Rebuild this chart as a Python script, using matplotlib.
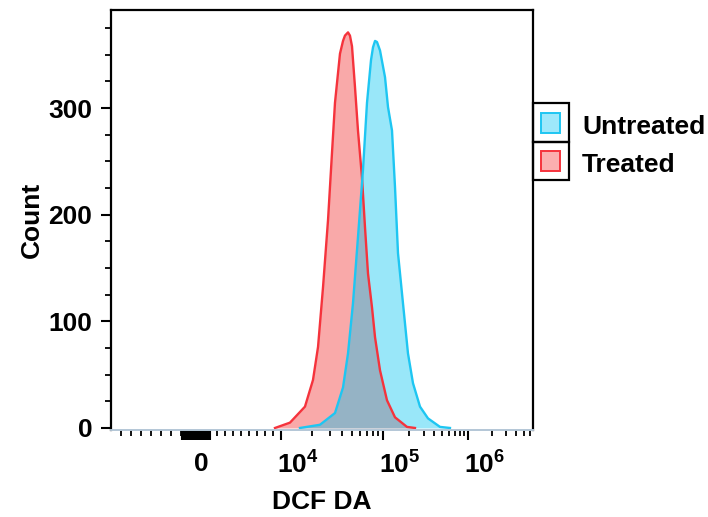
import numpy as np
import matplotlib.pyplot as plt
from matplotlib.patches import Rectangle
from matplotlib.ticker import FixedLocator, FixedFormatter, MultipleLocator
import matplotlib.transforms as mtransforms

plt.rcParams['font.family'] = ['Liberation Sans', 'DejaVu Sans']
plt.rcParams['font.weight'] = 'bold'
plt.rcParams['mathtext.fontset'] = 'custom'
plt.rcParams['mathtext.rm'] = 'Liberation Sans:bold'
plt.rcParams['mathtext.bf'] = 'Liberation Sans:bold'
plt.rcParams['mathtext.it'] = 'Liberation Sans:bold'

# DCF DA fluorescence (x) vs cell count
treated_x = [9250, 12250, 17180, 20590, 23070, 25820, 28910, 31620, 33830, 37860,
             40550, 42380, 45400, 47420, 49660, 53110, 56850, 62200, 66630, 71260,
             78030, 83550, 93500, 111400, 138400, 191500, 237800]
treated_count = [0, 5, 20, 45, 76, 132, 195, 258, 305, 351,
                 363, 368, 371, 368, 358, 320, 279, 235, 188, 145,
                 113, 85, 54, 26, 10, 1, 0]

untreated_x = [15350, 24100, 33830, 40550, 45400, 50800, 56850, 63630, 69690, 76280,
               79800, 83550, 87300, 93500, 105600, 114500, 127600, 138400, 150100,
               171800, 196700, 225300, 272500, 338300, 468500, 613300]
untreated_count = [0, 3, 14, 38, 70, 117, 179, 242, 305, 345,
                   357, 363, 362, 354, 329, 301, 279, 226, 164,
                   117, 70, 42, 20, 9, 1, 0]

groups = ['Untreated', 'Treated']
y_ticks = [0, 100, 200, 300]


# flow-cytometry style axis: linear around zero, log above 1e4
def _t(x):
    x = np.asarray(x, dtype=float)
    a = np.abs(x)
    return np.where(a <= 1e4, x / 1e4, np.sign(x) * (1 + np.log10(np.maximum(a, 1e4) / 1e4)))


def _t_inv(t):
    t = np.asarray(t, dtype=float)
    a = np.abs(t)
    return np.where(a <= 1, t * 1e4, np.sign(t) * 1e4 * 10 ** (np.maximum(a, 1) - 1))


x_lo, x_hi = -9000, 6.5e6
anchor_t = _t([x_lo, 0, 1e4, 1e5, 1e6, x_hi])
anchor_p = np.array([0, 90, 170, 272, 357, 422], dtype=float)


def fwd(x):
    return np.interp(_t(x), anchor_t, anchor_p)


def inv(p):
    return _t_inv(np.interp(p, anchor_p, anchor_t))


W, H = 708, 517
fig = plt.figure(figsize=(W / 100, H / 100), dpi=100)
ax = fig.add_axes([111 / W, 1 - 430 / H, 422 / W, 420 / H])
ax.set_xscale('function', functions=(fwd, inv))

red_fill, red_line = '#f23c3c', '#f5333c'
cyan_fill, cyan_line = '#00c3f0', '#1ec6f2'

ax.fill_between(treated_x, 0, treated_count, color=red_fill, alpha=0.44, lw=0)
ax.plot(treated_x, treated_count, color=red_line, lw=1.7)
ax.fill_between(untreated_x, 0, untreated_count, color=cyan_fill, alpha=0.4, lw=0)
ax.plot(untreated_x, untreated_count, color=cyan_line, lw=1.7)

ax.set_xlim(x_lo, x_hi)
ax.set_ylim(-1.9, 392)

# ticks
blob = [b for b in range(-1900, 1101, 150) if b != 0]
majors = [0, 1e4, 1e5, 1e6] + blob
labels = ['0', r'$\mathbf{10^4}$', r'$\mathbf{10^5}$', r'$\mathbf{10^6}$'] + [''] * len(blob)
ax.xaxis.set_major_locator(FixedLocator(majors))
ax.xaxis.set_major_formatter(FixedFormatter(labels))
minors = [k * 1000 for k in range(-8, -1)] + [k * 1000 for k in range(2, 10)]
minors += [k * 1e4 for k in range(2, 10)] + [k * 1e5 for k in range(2, 10)] + [k * 1e6 for k in range(2, 7)]
ax.xaxis.set_minor_locator(FixedLocator(minors))

ax.yaxis.set_major_locator(FixedLocator(y_ticks))
ax.yaxis.set_minor_locator(MultipleLocator(25))

ax.tick_params(which='major', length=7.5, width=1.5, labelsize=19, pad=6)
ax.tick_params(which='minor', length=4, width=1.3)
ax.tick_params(axis='x', which='major', pad=8)

offset = mtransforms.ScaledTranslation(-3 / 72, 0, fig.dpi_scale_trans)
for lab in ax.get_xticklabels()[1:4]:
    lab.set_ha('left')
    lab.set_transform(lab.get_transform() + offset)

for side in ['left', 'top', 'right']:
    ax.spines[side].set_linewidth(1.6)
    ax.spines[side].set_color('black')
ax.spines['bottom'].set_color('#b3c6d6')
ax.spines['bottom'].set_linewidth(1.4)

ax.set_xlabel('DCF DA', fontsize=19, fontweight='bold', labelpad=8)
ax.set_ylabel('Count', fontsize=19, fontweight='bold', labelpad=3)


# boxed legend to the right of the plot
def fp(px, py):
    return px / W, 1 - py / H


bx0, bx1 = 533, 569
rows = [(103, 142), (142, 180)]
sw_face = ['#9ee8fb', '#fbafaf']
sw_edge = [cyan_line, red_line]
for (top, bot), name, fc, ec in zip(rows, groups, sw_face, sw_edge):
    x0, y0 = fp(bx0, bot)
    fig.add_artist(Rectangle((x0, y0), (bx1 - bx0) / W, (bot - top) / H,
                             transform=fig.transFigure, fill=False, ec='black', lw=1.6))
    mid = (top + bot) / 2
    sx, sy = fp(541, mid + 10)
    fig.add_artist(Rectangle((sx, sy), 19 / W, 20 / H, transform=fig.transFigure,
                             fc=fc, ec=ec, lw=1.4))
    tx, ty = fp(582, mid + 4)
    fig.text(tx, ty, name, fontsize=19, fontweight='bold', va='center', ha='left')

fig.savefig('out.png', dpi=100)
